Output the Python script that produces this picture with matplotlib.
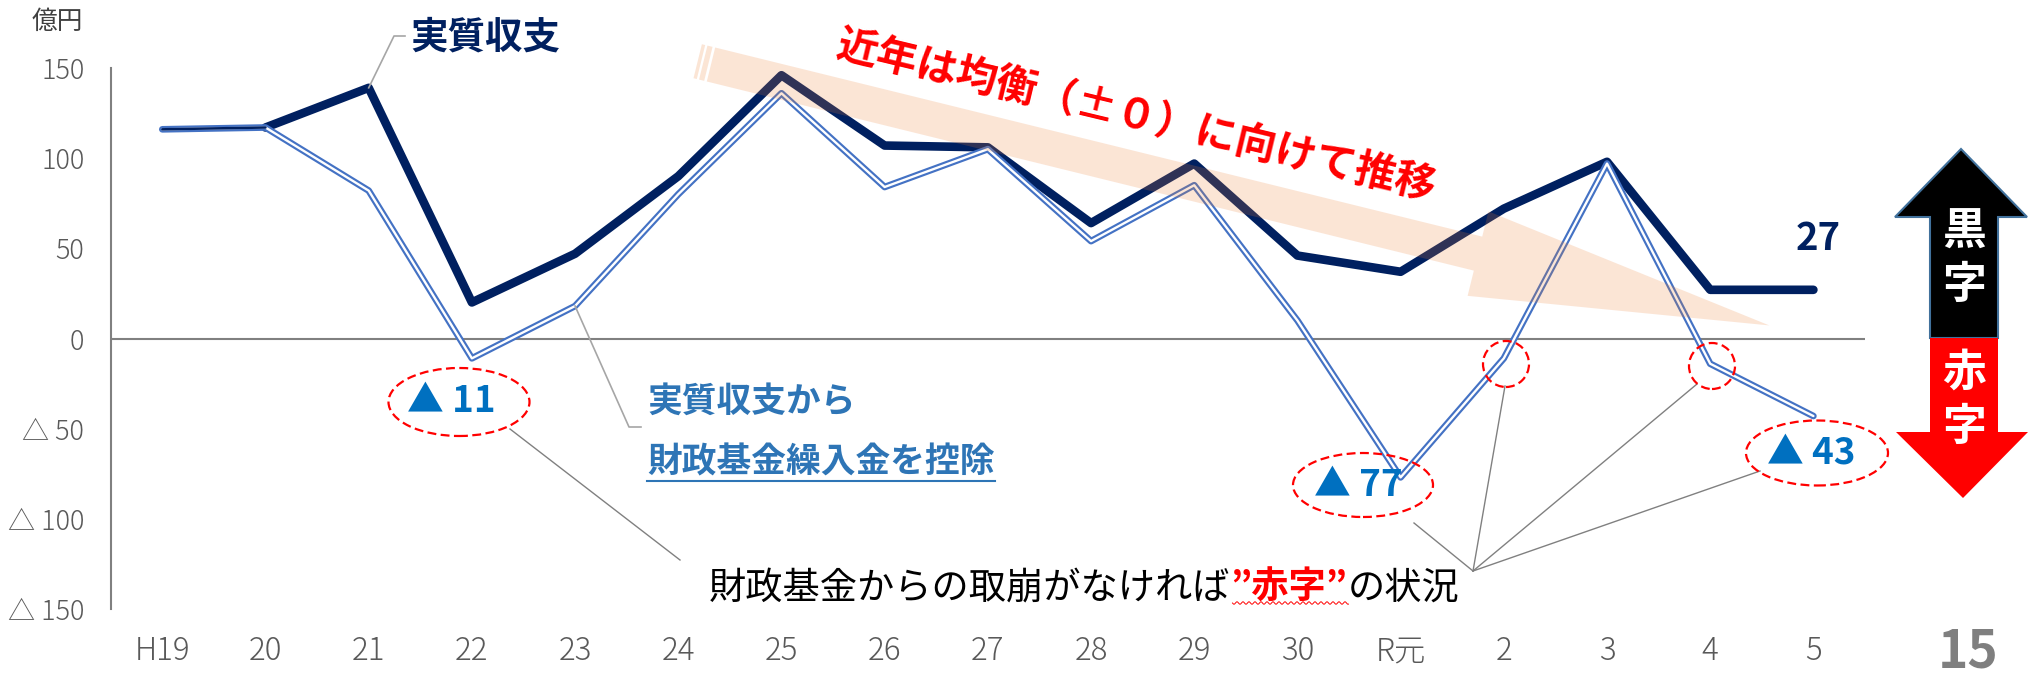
import matplotlib
matplotlib.use('Agg')
import matplotlib.pyplot as plt
import numpy as np
from matplotlib.patches import Polygon, Ellipse
from matplotlib.lines import Line2D

plt.rcParams['font.family'] = ['Noto Sans CJK JP', 'DejaVu Sans']

# ---------------- data ----------------
years = ['H19', '20', '21', '22', '23', '24', '25', '26', '27', '28', '29', '30', 'R元', '2', '3', '4', '5']
jisshitsu = [116, 117, 139, 20, 47, 90, 146, 107, 106, 64, 97, 46, 37, 72, 98, 27, 27]
kojo = [116, 117, 82, -11, 18, 80, 136, 84, 105, 54, 85, 10, -77, -11, 97, -14, -43]
yticks = [-150, -100, -50, 0, 50, 100, 150]
ytick_labels = ['△ 150', '△ 100', '△ 50', '0', '50', '100', '150']

NAVY = '#002060'
BLUE = '#4472C4'
LBLUE = '#2E75B6'
TBLUE = '#0070C0'
GRAY = '#595959'

W, H = 2028, 676
fig = plt.figure(figsize=(W / 100, H / 100), dpi=100)


def P(x, y):
    return (x / W, 1 - y / H)


def fig_line(pts, **kw):
    xs = [p[0] / W for p in pts]
    ys = [1 - p[1] / H for p in pts]
    fig.add_artist(Line2D(xs, ys, transform=fig.transFigure, **kw))


ax = fig.add_axes([110.7 / W, 1 - 609 / H, (1865 - 110.7) / W, (609 - 68) / H])
x = np.arange(len(years))
ax.set_xlim(-0.5, len(years) - 0.5)
ax.set_ylim(-150, 150)
for s in ['top', 'right', 'bottom']:
    ax.spines[s].set_visible(False)
ax.spines['left'].set_color('#808080')
ax.spines['left'].set_linewidth(1.5)
ax.axhline(0, color='#808080', lw=1.5, zorder=2)
ax.set_xticks(x)
ax.set_xticklabels(years)
ax.set_yticks(yticks)
ax.set_yticklabels(ytick_labels)
ax.tick_params(axis='x', length=0, pad=19, labelsize=22.5, labelcolor=GRAY)
ax.tick_params(axis='y', length=0, pad=19, labelsize=19.5, labelcolor=GRAY)
for lab in ax.get_xticklabels() + ax.get_yticklabels():
    lab.set_fontweight('light')

# lines
ax.plot(x[1:], jisshitsu[1:], color=NAVY, lw=6.2, solid_capstyle='round',
        solid_joinstyle='round', zorder=3)
ax.plot(x, kojo, color=BLUE, lw=4.8, solid_capstyle='round', solid_joinstyle='round', zorder=4)
ax.plot(x, kojo, color='white', lw=1.7, solid_capstyle='round', solid_joinstyle='round', zorder=5)
ax.plot(x[:2], jisshitsu[:2], color=NAVY, lw=1.8, solid_capstyle='round', zorder=6)


def data_px(xv, yv):
    dx, dy = ax.transData.transform((xv, yv))
    return (dx, H - dy)


# ---------------- band arrow ----------------
theta = np.deg2rad(13.85)
u = np.array([np.cos(theta), np.sin(theta)])
n = np.array([-np.sin(theta), np.cos(theta)])
O = np.array([711.0, 64.5])


def pt(s, t):
    p = O + s * u + t * n
    return P(p[0], p[1])


bhw, hhw, blen, hlen = 17.5, 43.5, 790, 300
arrow = [pt(0, -bhw), pt(blen, -bhw), pt(blen, -hhw), pt(blen + hlen, 0),
         pt(blen, hhw), pt(blen, bhw), pt(0, bhw)]
fig.add_artist(Polygon(arrow, closed=True, transform=fig.transFigure,
                       facecolor='#ED7D31', alpha=0.2, edgecolor='none', zorder=1))
for s0, s1 in [(-8, -2.7), (-13.7, -10.3)]:
    fig.add_artist(Polygon([pt(s0, -bhw), pt(s1, -bhw), pt(s1, bhw), pt(s0, bhw)], closed=True,
                           transform=fig.transFigure, facecolor='#ED7D31', alpha=0.2,
                           edgecolor='none', zorder=1))

fig.text(*P(1136, 116), '近年は均衡（±０）に向けて推移', rotation=-13.5, rotation_mode='anchor',
         color='#FF0000', fontsize=29.5, fontweight='bold', ha='center', va='center', zorder=5)

# ---------------- titles / labels ----------------
fig.text(*P(57.5, 21.5), '億円', fontsize=18.5, color='#404040', ha='center', va='center')
fig.text(*P(485, 37), '実質収支', color=NAVY, fontsize=27, fontweight='bold', ha='center', va='center')
p21 = data_px(2, jisshitsu[2])
fig_line([p21, (394, 36), (405, 36)], color='#A6A6A6', lw=1.2)

t1 = fig.text(*P(647, 401), '実質収支から', color=LBLUE, fontsize=25, fontweight='bold',
              ha='left', va='center')
t2 = fig.text(*P(647, 462), '財政基金繰入金を控除', color=LBLUE, fontsize=25, fontweight='bold',
              ha='left', va='center')
p23 = data_px(4, kojo[4])
fig_line([p23, (629, 427), (641, 427)], color='#A6A6A6', lw=1.2)

fig.text(*P(1818, 239), '27', color=NAVY, fontsize=27.5, fontweight='bold', ha='center', va='center')

# ovals
for (cx, cy, w, h) in [(459, 402, 141, 68), (1363, 485, 140, 64), (1817, 453, 142, 65),
                       (1506, 364, 46, 46), (1712, 366, 46, 46)]:
    fig.add_artist(Ellipse(P(cx, cy), w / W, h / H, transform=fig.transFigure, fill=False,
                           edgecolor='#FF0000', lw=1.6, linestyle=(0, (4, 2)), zorder=4))
for (cx, cy, s) in [(451, 401, '▲ 11'), (1358, 486, '▲ 77'), (1811, 453, '▲ 43')]:
    fig.text(*P(cx, cy), s, color=TBLUE, fontsize=26.5, fontweight='bold', ha='center', va='center')

# leader lines to the bottom note
conv = (1473, 571)
fig_line([(510, 429), (680, 560)], color='#808080', lw=1.0)
fig_line([(1414, 523), conv], color='#808080', lw=1.0)
fig_line([conv, (1505, 386)], color='#808080', lw=1.0)
fig_line([conv, (1697, 384)], color='#808080', lw=1.0)
fig_line([conv, (1760, 471)], color='#808080', lw=1.0)

# bottom note
fig.canvas.draw()
r = fig.canvas.get_renderer()
base_y = 599
fs_note = 26.8
a = fig.text(*P(709, base_y), '財政基金からの取崩がなければ', fontsize=fs_note, color='black',
             ha='left', va='baseline')
ex = a.get_window_extent(r)
b = fig.text(ex.x1 / W, 1 - base_y / H, '”赤字”', fontsize=fs_note, color='#FF0000',
             fontweight='bold', ha='left', va='baseline')
exb = b.get_window_extent(r)
c = fig.text(exb.x1 / W, 1 - base_y / H, 'の状況', fontsize=fs_note, color='black',
             ha='left', va='baseline')
# wavy underline
xs = np.arange(exb.x0 + 2, exb.x1 + 2, 1.0)
ys = base_y + 4 + 1.3 * np.sin((xs - xs[0]) / 3.0 * np.pi)
fig_line(list(zip(xs, ys)), color='#FF0000', lw=0.7)

# underline for blue label
ex2 = t2.get_window_extent(r)
fig_line([(ex2.x0, 481), (ex2.x1, 481)], color=LBLUE, lw=1.5)

# ---------------- right arrows ----------------
up = [(1961, 149), (2027, 217), (1998, 217), (1998, 338), (1930, 338), (1930, 217), (1895, 217)]
fig.add_artist(Polygon([P(*q) for q in up], closed=True, transform=fig.transFigure,
                       facecolor='black', edgecolor='#41719C', lw=1.5, zorder=2))
down = [(1930, 338), (1998, 338), (1998, 432), (2028, 432), (1963, 498), (1896, 432), (1930, 432)]
fig.add_artist(Polygon([P(*q) for q in down], closed=True, transform=fig.transFigure,
                       facecolor='#FF0000', edgecolor='none', zorder=2))
for (cy, ch) in [(231.5, '黒'), (285, '字'), (373, '赤'), (427, '字')]:
    fig.text(*P(1964, cy), ch, color='white', fontsize=31.5, fontweight='bold', ha='center',
             va='center', zorder=6)

fig.text(*P(1968, 652), '15', color='#7F7F7F', fontsize=37, fontweight='bold', ha='center', va='center')

fig.savefig('out.png', dpi=100, facecolor='white')
